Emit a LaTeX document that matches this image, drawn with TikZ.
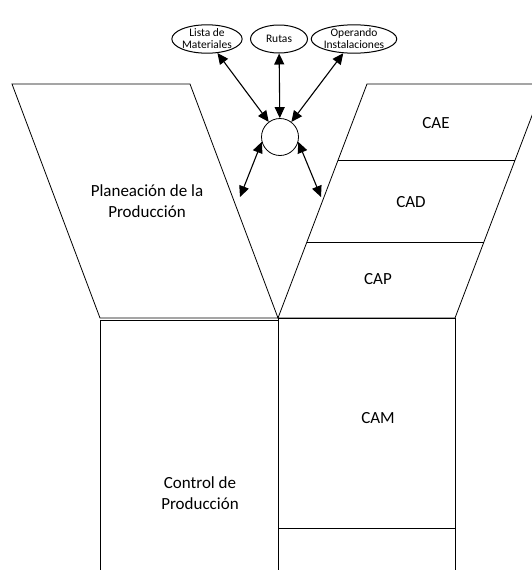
\documentclass[tikz,border=0pt]{standalone}
\usepackage{fontspec}
\setmainfont{Carlito}
\usetikzlibrary{arrows.meta,shapes.geometric,positioning,calc}

\begin{document}
\begin{tikzpicture}[x=1pt,y=-1pt,>={Triangle[length=11pt,width=10pt]},
  line width=0.8pt,
  src node/.style={ellipse,draw,line width=1pt,minimum width=57,minimum height=28,
    inner sep=0,align=center,font=\fontsize{11.5}{12}\selectfont},
  hub node/.style={circle,draw,minimum size=37,inner sep=0},
  label node/.style={align=center,font=\fontsize{17}{21.5}\selectfont},
  link/.style={<->,line width=1.1pt}]
    \useasboundingbox (0,0) rectangle (532,570);
    \clip (0,0) rectangle (532,570);

    % planeacion
    \draw (12,84) -- (190,84) -- (278,318) -- (100,318) -- cycle;
    % CAE / CAD / CAP
    \draw (367,84) -- (544,84) -- (455,318) -- (278,318) -- cycle;
    \draw (338,160) -- (515,160);
    \draw (307,242) -- (484,242);
    % control y CAM
    \draw (100,575) -- (100,320.5) -- (278,320.5);
    \draw (278,318) -- (278,575);
    \draw (278,318) -- (455,318) -- (455,575);
    \draw (278,528) -- (455,528);

    \node[label node] (plan) at (147,201) {Planeación de la\\Producción};
    \node[label node] (cae) at (436,123) {CAE};
    \node[label node] (cad) at (411,202) {CAD};
    \node[label node] (cap) at (378,279) {CAP};
    \node[label node] (cam) at (378,418) {CAM};
    \node[label node] (ctrl) at (200,493) {Control de\\Producción};

    \node[src node] (lista) at (207,39) {Lista de\\Materiales};
    \node[src node] (rutas) at (279,39) {Rutas};
    \node[src node,minimum width=72] (oper) at (354,39) {Operando\\Instalaciones};
    \node[hub node] (hub) at (280,137) {};

    \coordinate (pl) at (240,197);
    \coordinate (pr) at (321,197);

    \path[link] (lista) edge (hub)
                (rutas) edge (hub)
                (oper) edge (hub);
    \draw[link] (hub.195) -- (pl);
    \draw[link] (hub.-15) -- (pr);
\end{tikzpicture}
\end{document}
